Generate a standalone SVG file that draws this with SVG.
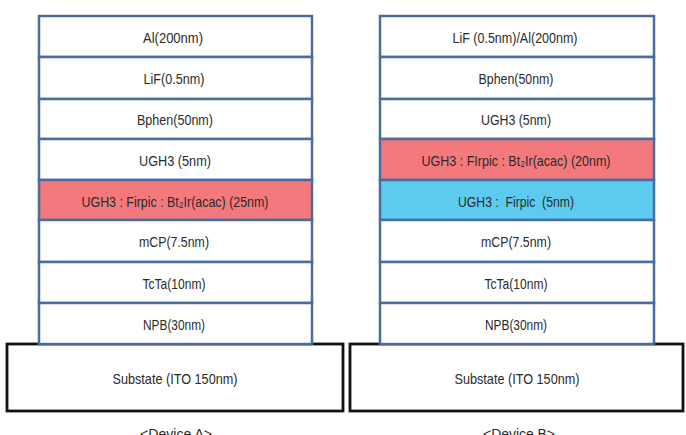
<svg xmlns="http://www.w3.org/2000/svg" width="686" height="435" viewBox="0 0 686 435">
<style>
.layer{stroke:#4a6c9e;stroke-width:2.5;fill:#ffffff}
.red{fill:#f4797c}
.blue{fill:#5ccbef}
.sub{stroke:#111;stroke-width:2.8;fill:#ffffff}
text{font-family:"Liberation Sans","DejaVu Sans",sans-serif;font-size:15px;fill:#2a2a2a;text-anchor:middle;dominant-baseline:central}
</style>
<rect width="686" height="435" fill="#ffffff"/>
<g id="deviceA">
<g id="A-sub"><rect class="sub" x="7" y="344" width="336" height="67"/><text x="175" y="378" textLength="125" lengthAdjust="spacingAndGlyphs">Substate (ITO 150nm)</text></g>
<g id="A-al"><rect class="layer" x="39" y="16" width="273" height="41"/><text x="173" y="37" textLength="60" lengthAdjust="spacingAndGlyphs">Al(200nm)</text></g>
<g id="A-lif"><rect class="layer" x="39" y="57" width="273" height="42"/><text x="174" y="78" textLength="61" lengthAdjust="spacingAndGlyphs">LiF(0.5nm)</text></g>
<g id="A-bphen"><rect class="layer" x="39" y="99" width="273" height="40"/><text x="175" y="119" textLength="76" lengthAdjust="spacingAndGlyphs">Bphen(50nm)</text></g>
<g id="A-ugh3"><rect class="layer" x="39" y="139" width="273" height="41"/><text x="175" y="160" textLength="72" lengthAdjust="spacingAndGlyphs">UGH3 (5nm)</text></g>
<g id="A-eml"><rect class="layer red" x="39" y="180" width="273" height="40"/><text x="175" y="201" textLength="187" lengthAdjust="spacingAndGlyphs">UGH3 : Firpic : Bt₂Ir(acac) (25nm)</text></g>
<g id="A-mcp"><rect class="layer" x="39" y="220" width="273" height="42"/><text x="174" y="241" textLength="70" lengthAdjust="spacingAndGlyphs">mCP(7.5nm)</text></g>
<g id="A-tcta"><rect class="layer" x="39" y="262" width="273" height="41"/><text x="174" y="283" textLength="63" lengthAdjust="spacingAndGlyphs">TcTa(10nm)</text></g>
<g id="A-npb"><rect class="layer" x="39" y="303" width="273" height="41"/><text x="174" y="324" textLength="62" lengthAdjust="spacingAndGlyphs">NPB(30nm)</text></g>
<text x="176" y="433" textLength="72" lengthAdjust="spacingAndGlyphs">&lt;Device A&gt;</text>
</g>
<g id="deviceB">
<g id="B-sub"><rect class="sub" x="350" y="344" width="333" height="67"/><text x="517" y="378" textLength="125" lengthAdjust="spacingAndGlyphs">Substate (ITO 150nm)</text></g>
<g id="B-cathode"><rect class="layer" x="380" y="16" width="274" height="41"/><text x="515" y="37" textLength="125" lengthAdjust="spacingAndGlyphs">LiF (0.5nm)/Al(200nm)</text></g>
<g id="B-bphen"><rect class="layer" x="380" y="57" width="274" height="42"/><text x="516" y="78" textLength="75" lengthAdjust="spacingAndGlyphs">Bphen(50nm)</text></g>
<g id="B-ugh3"><rect class="layer" x="380" y="99" width="274" height="40"/><text x="516" y="119" textLength="70" lengthAdjust="spacingAndGlyphs">UGH3 (5nm)</text></g>
<g id="B-eml1"><rect class="layer red" x="380" y="139" width="274" height="41"/><text x="516" y="160" textLength="189" lengthAdjust="spacingAndGlyphs">UGH3 : FIrpic : Bt₂Ir(acac) (20nm)</text></g>
<g id="B-eml2"><rect class="layer blue" x="380" y="180" width="274" height="40"/><text x="516" y="201" textLength="116" lengthAdjust="spacingAndGlyphs" xml:space="preserve">UGH3 :  Firpic  (5nm)</text></g>
<g id="B-mcp"><rect class="layer" x="380" y="220" width="274" height="42"/><text x="516" y="241" textLength="70" lengthAdjust="spacingAndGlyphs">mCP(7.5nm)</text></g>
<g id="B-tcta"><rect class="layer" x="380" y="262" width="274" height="41"/><text x="516" y="283" textLength="63" lengthAdjust="spacingAndGlyphs">TcTa(10nm)</text></g>
<g id="B-npb"><rect class="layer" x="380" y="303" width="274" height="41"/><text x="516" y="324" textLength="62" lengthAdjust="spacingAndGlyphs">NPB(30nm)</text></g>
<text x="519" y="433" textLength="72" lengthAdjust="spacingAndGlyphs">&lt;Device B&gt;</text>
</g>
<g id="connectors"/>
</svg>
